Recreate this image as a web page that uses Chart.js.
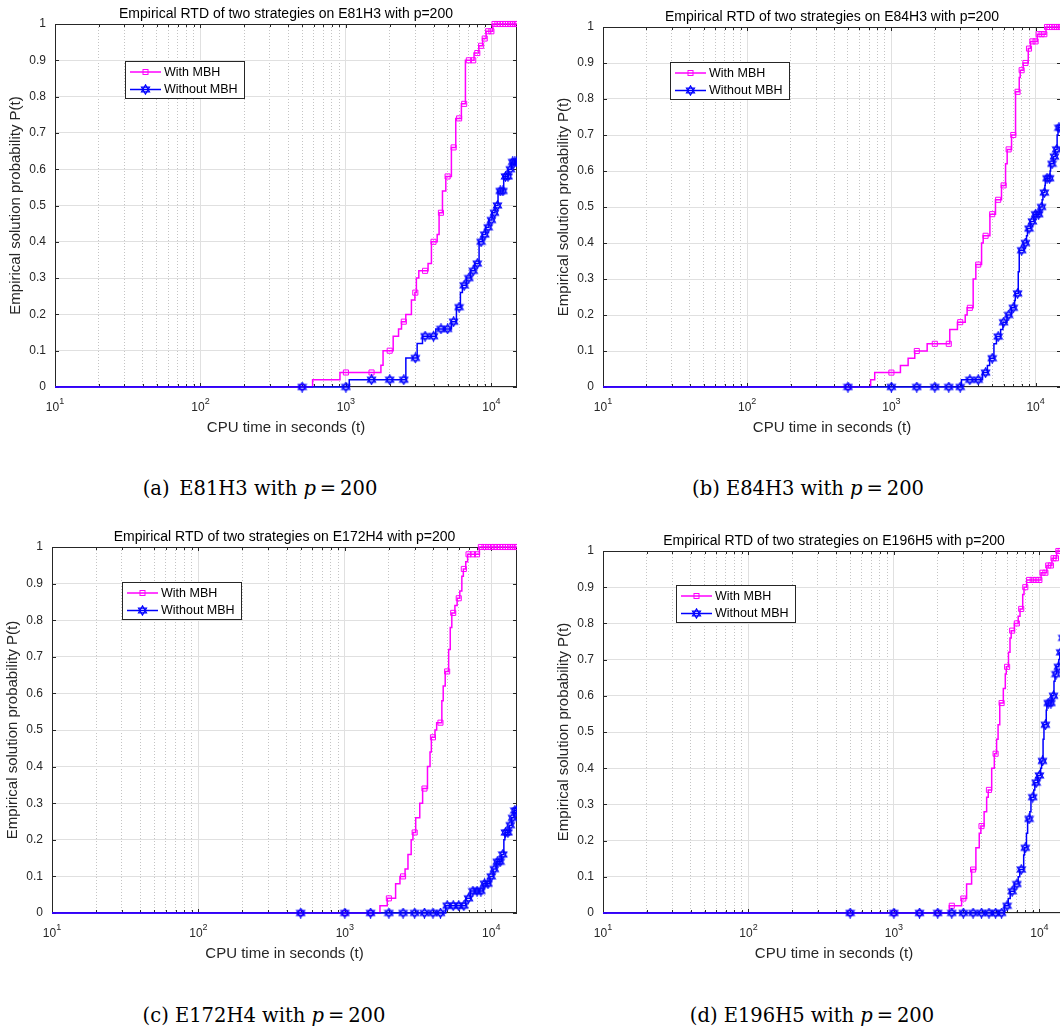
<!DOCTYPE html>
<html>
<head>
<meta charset="utf-8">
<title>Empirical RTD</title>
<script src="https://cdn.jsdelivr.net/npm/chart.js@4.4.1/dist/chart.umd.min.js"></script>
<style>
  body { margin: 0; width: 1060px; height: 1030px; overflow: hidden; background: #fff; position: relative; }
  canvas { position: absolute; }
  .cap { position: absolute; transform: translate(-50%, -50%); font-family: "DejaVu Serif", "Liberation Serif", serif; font-size: 19.5px; white-space: nowrap; color: #000; }
</style>
</head>
<body>
<canvas id="rtdA"></canvas>
<canvas id="rtdB"></canvas>
<canvas id="rtdC"></canvas>
<canvas id="rtdD"></canvas>
<div class="cap" style="left:260px; top:488px">(a)&ensp;E81H3 with <i>p</i>&#8201;=&#8201;200</div>
<div class="cap" style="left:808px; top:488px">(b) E84H3 with <i>p</i>&#8201;=&#8201;200</div>
<div class="cap" style="left:264px; top:1015px">(c) E172H4 with <i>p</i>&#8201;=&#8201;200</div>
<div class="cap" style="left:812px; top:1015px">(d) E196H5 with <i>p</i>&#8201;=&#8201;200</div>

<script>
// sample times where markers are shown
const markTimes = [500, 1000, 1500, 2000, 2500, 3000, 3500, 4000, 4500, 5000,
    5500, 6000, 6500, 7000, 7500, 8000, 8500, 9000, 9500, 10000,
    10500, 11000, 11500, 12000, 12500, 13000, 13500, 14000, 14500, 15000];

// x axis: decades + minor steps, y axis 0..1
const xDecades = [10, 100, 1000, 10000];
const xMinorSteps = [2, 3, 4, 5, 6, 7, 8, 9];
const yTicks = [0, 0.1, 0.2, 0.3, 0.4, 0.5, 0.6, 0.7, 0.8, 0.9, 1];

// [time (s), P(t)]
const e81With = [[10,0],[500,0],[590,0.02],[910,0.04],[1000,0.04],[1500,0.04],[1740,0.06],[1800,0.10],[2000,0.10],
    [2113,0.14],[2300,0.16],[2410,0.18],[2500,0.18],[2580,0.20],[2820,0.24],[2980,0.26],[3000,0.26],[3050,0.30],
    [3170,0.32],[3500,0.32],[3670,0.34],[3870,0.40],[4000,0.40],[4240,0.42],[4370,0.48],[4500,0.48],[4610,0.54],
    [4860,0.58],[5000,0.58],[5310,0.66],[5500,0.66],[5690,0.74],[6000,0.74],[6220,0.78],[6500,0.78],[6630,0.90],
    [7000,0.90],[7500,0.90],[7600,0.92],[8000,0.92],[8200,0.94],[8500,0.94],[8700,0.96],[9000,0.96],[9200,0.98],
    [9500,0.98],[10000,0.98],[10230,1],[10500,1],[11000,1],[11500,1],[12000,1],[12500,1],[13000,1],[13500,1],
    [14000,1],[14500,1],[15000,1]];
const e81Without = [[10,0],[500,0],[1000,0],[1054,0.02],[1500,0.02],[2000,0.02],[2500,0.02],[2582,0.08],[3000,0.08],
    [3088,0.12],[3360,0.14],[3500,0.14],[4000,0.14],[4148,0.16],[4500,0.16],[5000,0.16],[5313,0.18],[5500,0.18],
    [5750,0.22],[6000,0.22],[6124,0.26],[6320,0.28],[6500,0.28],[6735,0.30],[7000,0.30],[7177,0.32],[7500,0.32],
    [7688,0.34],[8000,0.34],[8230,0.40],[8500,0.40],[8670,0.42],[9000,0.42],[9140,0.44],[9500,0.44],[9620,0.46],
    [10000,0.46],[10100,0.48],[10500,0.48],[10600,0.50],[11000,0.50],[11110,0.54],[11500,0.54],[12000,0.54],
    [12150,0.58],[12500,0.58],[13000,0.58],[13100,0.60],[13500,0.60],[13700,0.62],[14000,0.62],[14500,0.62],[15000,0.62]];

const e84With = [[10,0],[500,0],[718,0.02],[766,0.04],[1000,0.04],[1155,0.06],[1306,0.08],[1452,0.10],[1500,0.10],
    [1770,0.12],[2000,0.12],[2500,0.12],[2540,0.16],[2870,0.18],[3000,0.18],[3250,0.20],[3350,0.22],[3500,0.22],
    [3690,0.30],[3850,0.34],[4000,0.34],[4220,0.40],[4330,0.42],[4500,0.42],[4820,0.48],[5000,0.48],[5270,0.52],
    [5500,0.52],[5800,0.56],[6000,0.56],[6190,0.62],[6350,0.66],[6500,0.66],[6810,0.70],[7000,0.70],[7260,0.82],
    [7500,0.82],[7700,0.86],[7820,0.88],[8000,0.88],[8200,0.90],[8500,0.90],[8890,0.94],[9000,0.94],[9220,0.96],
    [9500,0.96],[10000,0.96],[10270,0.98],[10500,0.98],[11000,0.98],[11500,0.98],[11800,1],[12000,1],[12500,1],
    [13000,1],[13500,1],[14000,1],[14500,1],[15000,1]];
const e84Without = [[10,0],[500,0],[1000,0],[1500,0],[2000,0],[2500,0],[3000,0],[3060,0.02],[3500,0.02],[4000,0.02],
    [4285,0.04],[4500,0.04],[4630,0.06],[4800,0.08],[5000,0.08],[5140,0.12],[5350,0.14],[5500,0.14],[5720,0.16],
    [5930,0.18],[6000,0.18],[6330,0.20],[6500,0.20],[6790,0.22],[7000,0.22],[7150,0.24],[7230,0.26],[7500,0.26],
    [7580,0.32],[7700,0.38],[8000,0.38],[8300,0.40],[8500,0.40],[8650,0.42],[8780,0.44],[9000,0.44],[9230,0.46],
    [9500,0.46],[9730,0.48],[10000,0.48],[10500,0.48],[10710,0.50],[11000,0.50],[11100,0.52],[11240,0.54],
    [11500,0.54],[11600,0.56],[11670,0.58],[12000,0.58],[12500,0.58],[12600,0.60],[12700,0.62],[13000,0.62],
    [13300,0.64],[13500,0.64],[13700,0.66],[14000,0.66],[14100,0.70],[14300,0.72],[14500,0.72],[15000,0.72]];

const e172With = [[10,0],[500,0],[1000,0],[1500,0],[1738,0.02],[1950,0.04],[2000,0.04],[2223,0.08],[2380,0.10],
    [2500,0.10],[2580,0.12],[2700,0.16],[2840,0.20],[2920,0.22],[3000,0.22],[3050,0.26],[3250,0.30],[3400,0.34],
    [3500,0.34],[3670,0.40],[3820,0.44],[3900,0.48],[4000,0.48],[4130,0.50],[4240,0.52],[4500,0.52],[4600,0.58],
    [4700,0.62],[4850,0.66],[5000,0.66],[5120,0.72],[5250,0.78],[5380,0.82],[5500,0.82],[5650,0.84],[5850,0.86],
    [6000,0.86],[6100,0.88],[6300,0.92],[6450,0.94],[6500,0.94],[6700,0.96],[6900,0.98],[7000,0.98],[7500,0.98],
    [8000,0.98],[8300,1],[8500,1],[9000,1],[9500,1],[10000,1],[10500,1],[11000,1],[11500,1],[12000,1],[12500,1],
    [13000,1],[13500,1],[14000,1],[14500,1],[15000,1]];
const e172Without = [[10,0],[500,0],[1000,0],[1500,0],[2000,0],[2500,0],[3000,0],[3500,0],[4000,0],[4500,0],
    [4890,0.02],[5000,0.02],[5500,0.02],[6000,0.02],[6500,0.02],[6700,0.04],[7000,0.04],[7200,0.06],[7500,0.06],
    [8000,0.06],[8500,0.06],[8800,0.08],[9000,0.08],[9500,0.08],[9800,0.10],[10000,0.10],[10300,0.12],[10500,0.12],
    [10800,0.14],[11000,0.14],[11500,0.14],[11800,0.16],[12000,0.16],[12200,0.20],[12400,0.22],[12500,0.22],
    [13000,0.22],[13300,0.24],[13500,0.24],[13800,0.26],[14000,0.26],[14300,0.28],[14500,0.28],[15000,0.28]];

const e196With = [[10,0],[500,0],[1000,0],[1500,0],[2000,0],[2405,0.02],[2500,0.02],[2920,0.04],[3000,0.04],
    [3160,0.08],[3420,0.12],[3500,0.12],[3660,0.18],[3860,0.22],[3960,0.24],[4000,0.24],[4170,0.28],[4340,0.32],
    [4450,0.34],[4500,0.34],[4700,0.40],[4900,0.44],[5000,0.44],[5080,0.48],[5200,0.52],[5340,0.58],[5500,0.58],
    [5650,0.62],[5830,0.66],[5920,0.68],[6000,0.68],[6130,0.72],[6280,0.76],[6400,0.78],[6500,0.78],[6730,0.80],
    [7000,0.80],[7150,0.82],[7360,0.84],[7500,0.84],[7680,0.88],[7840,0.90],[8000,0.90],[8170,0.92],[8500,0.92],
    [9000,0.92],[9500,0.92],[10000,0.92],[10270,0.94],[10500,0.94],[11000,0.94],[11250,0.96],[11500,0.96],
    [12000,0.96],[12200,0.98],[12500,0.98],[13000,0.98],[13150,1],[13500,1],[14000,1],[14500,1],[15000,1]];
const e196Without = [[10,0],[500,0],[1000,0],[1500,0],[2000,0],[2500,0],[3000,0],[3500,0],[4000,0],[4500,0],
    [5000,0],[5500,0],[5740,0.02],[6000,0.02],[6110,0.04],[6300,0.06],[6500,0.06],[6730,0.08],[7000,0.08],
    [7150,0.10],[7330,0.12],[7500,0.12],[7800,0.16],[7900,0.18],[8000,0.18],[8150,0.22],[8300,0.26],[8500,0.26],
    [8600,0.28],[8750,0.32],[9000,0.32],[9150,0.34],[9300,0.36],[9500,0.36],[9750,0.38],[10000,0.38],[10200,0.40],
    [10350,0.42],[10500,0.42],[10600,0.48],[10750,0.52],[11000,0.52],[11150,0.56],[11250,0.58],[11500,0.58],
    [12000,0.58],[12200,0.60],[12500,0.60],[12600,0.64],[12800,0.66],[13000,0.66],[13150,0.68],[13500,0.68],
    [13600,0.70],[13800,0.72],[14000,0.72],[14100,0.74],[14300,0.76],[14500,0.76],[15000,0.76]];

const FONT = '"Liberation Sans", Arial, Helvetica, sans-serif';
const AXIS = '#262626';
Chart.defaults.font.family = FONT;

// plot boxes (page px) and legend offsets from the plot's top-left corner
const panels = [
    { id: 'rtdA', name: 'E81H3', withMBH: e81With, withoutMBH: e81Without,
      box: { left: 55, top: 24, width: 462, height: 363 }, legendAt: [70, 37] },
    { id: 'rtdB', name: 'E84H3', withMBH: e84With, withoutMBH: e84Without,
      box: { left: 603, top: 27, width: 458, height: 360 }, legendAt: [67, 35] },
    { id: 'rtdC', name: 'E172H4', withMBH: e172With, withoutMBH: e172Without,
      box: { left: 52, top: 547, width: 465, height: 366 }, legendAt: [70, 35] },
    { id: 'rtdD', name: 'E196H5', withMBH: e196With, withoutMBH: e196Without,
      box: { left: 603, top: 551, width: 462, height: 362 }, legendAt: [73, 34] }
];

const PAD_L = 55, PAD_T = 30, PAD_R = 14, PAD_B = 50;

function isDecade(v) {
    const l = Math.log10(v);
    return Math.abs(l - Math.round(l)) < 1e-9;
}

// six-pointed star marker
function hexagram(color) {
    const c = document.createElement('canvas');
    c.width = 11; c.height = 11;
    const g = c.getContext('2d');
    g.strokeStyle = color;
    g.lineWidth = 1.2;
    const r = 4.6, cx = 5.5, cy = 5.5;
    [-90, 90].forEach(start => {
        g.beginPath();
        for (let k = 0; k < 3; k++) {
            const a = (start + k * 120) * Math.PI / 180;
            g.lineTo(cx + r * Math.cos(a), cy + r * Math.sin(a));
        }
        g.closePath();
        g.stroke();
    });
    return c;
}
const starBlue = hexagram('#0000ff');

function drawMarker(ctx, ds, x, y) {
    if (ds.pointStyle === 'rect') {
        const s = ds.markerSide;
        ctx.strokeStyle = ds.borderColor;
        ctx.lineWidth = 1;
        ctx.strokeRect(x - s / 2, y - s / 2, s, s);
    } else {
        ctx.drawImage(ds.pointStyle, x - ds.pointStyle.width / 2, y - ds.pointStyle.height / 2);
    }
}

// axes box, inward ticks, labels, title and legend
const decor = {
    id: 'decor',
    beforeDatasetsDraw(chart) {
        const { ctx, chartArea: a, scales } = chart;
        ctx.save();
        ctx.strokeStyle = AXIS;
        ctx.lineWidth = 1;
        ctx.strokeRect(a.left + 0.5, a.top + 0.5, a.right - a.left - 1, a.bottom - a.top - 1);
        ctx.beginPath();
        scales.x.ticks.forEach(t => {
            const px = Math.round(scales.x.getPixelForValue(t.value)) + 0.5;
            const len = isDecade(t.value) ? 4 : 3;
            ctx.moveTo(px, a.bottom); ctx.lineTo(px, a.bottom - len);
            ctx.moveTo(px, a.top); ctx.lineTo(px, a.top + len);
        });
        scales.y.ticks.forEach(t => {
            const py = Math.round(scales.y.getPixelForValue(t.value)) + 0.5;
            ctx.moveTo(a.left, py); ctx.lineTo(a.left + 4, py);
            ctx.moveTo(a.right, py); ctx.lineTo(a.right - 4, py);
        });
        ctx.stroke();
        ctx.restore();
    },
    afterDraw(chart, args, opts) {
        const { ctx, chartArea: a, scales } = chart;
        const cx = (a.left + a.right) / 2;
        ctx.save();
        ctx.textBaseline = 'middle';

        // decade labels 10^n
        ctx.fillStyle = AXIS;
        xDecades.forEach(v => {
            const px = scales.x.getPixelForValue(v);
            const exp = String(Math.round(Math.log10(v)));
            ctx.font = '12px ' + FONT;
            const wBase = ctx.measureText('10').width;
            ctx.font = '9px ' + FONT;
            const wExp = ctx.measureText(exp).width;
            const x0 = px - (wBase + wExp) / 2;
            ctx.textAlign = 'left';
            ctx.font = '12px ' + FONT;
            ctx.fillText('10', x0, a.bottom + 21);
            ctx.font = '9px ' + FONT;
            ctx.fillText(exp, x0 + wBase, a.bottom + 15);
        });

        ctx.textAlign = 'center';
        ctx.font = '15px ' + FONT;
        ctx.fillText('CPU time in seconds (t)', cx, a.bottom + 41);

        ctx.save();
        ctx.translate(a.left - 39, (a.top + a.bottom) / 2);
        ctx.rotate(-Math.PI / 2);
        ctx.fillText('Empirical solution probability P(t)', 0, 0);
        ctx.restore();

        ctx.fillStyle = '#000';
        ctx.font = '14px ' + FONT;
        ctx.fillText(opts.title, cx, a.top - 10);

        // legend box
        const lx = a.left + opts.legendAt[0], ly = a.top + opts.legendAt[1];
        ctx.fillStyle = '#fff';
        ctx.fillRect(lx, ly, 120, 38);
        ctx.strokeStyle = AXIS;
        ctx.lineWidth = 1;
        ctx.strokeRect(lx + 0.5, ly + 0.5, 119, 37);
        chart.data.datasets.forEach((ds, i) => {
            const y = ly + 11 + i * 17.5;
            ctx.strokeStyle = ds.borderColor;
            ctx.lineWidth = 1.5;
            ctx.beginPath();
            ctx.moveTo(lx + 5, y); ctx.lineTo(lx + 36, y);
            ctx.stroke();
            drawMarker(ctx, ds, lx + 20.5, y);
            ctx.fillStyle = '#000';
            ctx.textAlign = 'left';
            ctx.font = '12.5px ' + FONT;
            ctx.fillText(ds.label, lx + 39, y + 0.5);
        });
        ctx.restore();
    }
};

function series(points) {
    return points.map(([t, p]) => ({ x: t, y: p }));
}

panels.forEach(p => {
    const canvas = document.getElementById(p.id);
    canvas.width = p.box.width + PAD_L + PAD_R;
    canvas.height = p.box.height + PAD_T + PAD_B;
    canvas.style.left = (p.box.left - PAD_L) + 'px';
    canvas.style.top = (p.box.top - PAD_T) + 'px';

    const markerRadius = r => ctx => markTimes.includes(ctx.raw && ctx.raw.x) ? r : 0;

    new Chart(canvas, {
        type: 'line',
        data: {
            datasets: [
                {
                    label: 'With MBH',
                    data: series(p.withMBH),
                    stepped: true,
                    borderColor: '#ff00ff',
                    borderWidth: 1.5,
                    pointStyle: 'rect',
                    markerSide: 5,
                    pointRadius: markerRadius(3.6),
                    pointBorderWidth: 1,
                    pointBorderColor: '#ff00ff',
                    pointBackgroundColor: 'rgba(0,0,0,0)',
                    fill: false,
                    order: 1,
                    clip: { left: 6, top: 6, right: 0, bottom: 6 }
                },
                {
                    label: 'Without MBH',
                    data: series(p.withoutMBH),
                    stepped: true,
                    borderColor: '#0000ff',
                    borderWidth: 1.5,
                    pointStyle: starBlue,
                    pointRadius: markerRadius(4),
                    pointBorderColor: '#0000ff',
                    fill: false,
                    order: 0,
                    clip: { left: 6, top: 6, right: 0, bottom: 6 }
                }
            ]
        },
        options: {
            responsive: false,
            animation: false,
            events: [],
            layout: { padding: { left: 0, top: PAD_T, right: PAD_R, bottom: 0 } },
            plugins: {
                legend: { display: false },
                tooltip: { enabled: false },
                decor: { title: 'Empirical RTD of two strategies on ' + p.name + ' with p=200', legendAt: p.legendAt }
            },
            scales: {
                x: {
                    type: 'logarithmic',
                    min: 10,
                    max: 15000,
                    afterBuildTicks: s => {
                        const vals = [];
                        xDecades.forEach(d => {
                            vals.push(d);
                            xMinorSteps.forEach(m => { if (d * m <= 15000) vals.push(d * m); });
                        });
                        s.ticks = vals.map(v => ({ value: v }));
                    },
                    afterFit: s => { s.height = PAD_B; },
                    ticks: { display: false },
                    grid: {
                        drawTicks: false,
                        lineWidth: 1,
                        color: c => (c.tick && !isDecade(c.tick.value)) ? '#c4c4c4' : '#e0e0e0'
                    },
                    border: {
                        display: false,
                        dash: c => (c.tick && !isDecade(c.tick.value)) ? [1, 2] : []
                    }
                },
                y: {
                    min: 0,
                    max: 1,
                    afterBuildTicks: s => { s.ticks = yTicks.map(v => ({ value: v })); },
                    afterFit: s => { s.width = PAD_L; },
                    ticks: {
                        padding: 9,
                        color: AXIS,
                        font: { size: 12 },
                        callback: v => String(Math.round(v * 10) / 10)
                    },
                    grid: { drawTicks: false, lineWidth: 1, color: '#e0e0e0' },
                    border: { display: false }
                }
            }
        },
        plugins: [decor]
    });
});
</script>
</body>
</html>
